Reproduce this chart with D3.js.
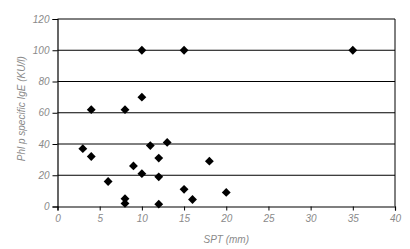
<!DOCTYPE html>
<html>
<head>
<meta charset="utf-8">
<script src="https://cdn.jsdelivr.net/npm/d3@7"></script>
<style>
  body { margin: 0; background: #fff; }
  text { font-family: "Liberation Sans", Arial, sans-serif; font-style: italic; fill: #8a8a8a; }
</style>
</head>
<body>
<div id="content"></div>
<script>
// SPT wheal size (mm) vs Phl p specific IgE (KU/l)
const spt = [3, 4, 4, 6, 8, 8, 8, 9, 10, 10, 10, 11, 12, 12, 12, 13, 15, 15, 16, 18, 20, 35];
const ige = [37, 62, 32, 16, 62, 5, 2, 26, 100, 70, 21, 39, 31, 19, 1.5, 41, 100, 11, 4.5, 29, 9, 100];
const xTicks = [0, 5, 10, 15, 20, 25, 30, 35, 40];
const yTicks = [0, 20, 40, 60, 80, 100, 120];

const width = 410, height = 249;
const svg = d3.select("#content")
    .append("svg")
    .attr("width", width)
    .attr("height", height);

const plotLeft = 57.5, plotRight = 395, plotTop = 19, plotBottom = 206.5;

const xScale = d3.scaleLinear().domain([0, 40]).range([plotLeft, plotRight]);
const yScale = d3.scaleLinear().domain([0, 120]).range([plotBottom, plotTop]);

// horizontal grid lines
svg.append("g")
    .selectAll("line")
    .data(yTicks.filter(d => d > 0))
    .enter()
    .append("line")
    .attr("x1", plotLeft)
    .attr("x2", plotRight)
    .attr("y1", d => yScale(d))
    .attr("y2", d => yScale(d))
    .attr("stroke", "#000")
    .attr("stroke-width", 1);

// right border
svg.append("line")
    .attr("x1", plotRight).attr("x2", plotRight)
    .attr("y1", plotTop).attr("y2", plotBottom)
    .attr("stroke", "#000");

// axes
const xAxis = d3.axisBottom(xScale).tickValues(xTicks).tickSize(4).tickPadding(4);
const yAxis = d3.axisLeft(yScale).tickValues(yTicks).tickSize(5).tickPadding(3);

const gx = svg.append("g")
    .attr("transform", "translate(0," + plotBottom + ")")
    .call(xAxis);
const gy = svg.append("g")
    .attr("transform", "translate(" + plotLeft + ",0)")
    .call(yAxis);

[gx, gy].forEach(g => {
    g.select(".domain").attr("stroke", "#000").attr("stroke-width", 1.2);
    g.selectAll(".tick line").attr("stroke", "#000");
    g.selectAll(".tick text")
        .attr("font-size", 10)
        .style("font-family", "'Liberation Sans', Arial, sans-serif")
        .style("font-style", "italic")
        .attr("fill", "#8a8a8a");
});

// points
const pts = spt.map((d, i) => [d, ige[i]]);
const diamond = d3.symbol().type(d3.symbolDiamond2).size(50);
svg.append("g")
    .selectAll("path")
    .data(pts)
    .enter()
    .append("path")
    .attr("d", diamond)
    .attr("transform", d => "translate(" + xScale(d[0]) + "," + yScale(d[1]) + ")")
    .attr("fill", "#000");

// axis labels
svg.append("text")
    .attr("x", (plotLeft + plotRight) / 2)
    .attr("y", 243)
    .attr("text-anchor", "middle")
    .attr("font-size", 10)
    .text("SPT (mm)");

svg.append("text")
    .attr("transform", "rotate(-90)")
    .attr("x", -(plotTop + plotBottom) / 2 + 4)
    .attr("y", 25)
    .attr("text-anchor", "middle")
    .attr("font-size", 10)
    .text("Phl p specific IgE (KU/l)");
</script>
</body>
</html>
